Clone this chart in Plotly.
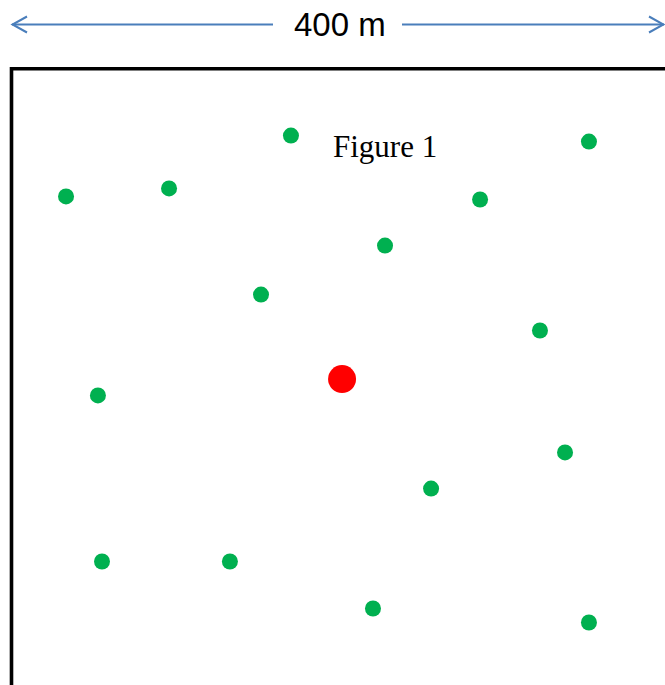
import plotly.graph_objects as go

# Tree positions in metres inside the 400 m plot (x from left edge, y from top edge)
green_x = [171.4, 354.5, 33.2, 96.5, 287.6, 229.2, 153.0, 324.4, 52.8, 339.8, 257.5, 55.3, 133.9, 221.8, 354.5]
green_y = [41.2, 44.9, 78.6, 73.7, 80.5, 108.8, 138.9, 161.0, 200.9, 235.9, 258.1, 302.9, 302.9, 331.8, 340.4]
red_x = [202.8]
red_y = [190.8]

side_label = "400 m"
title_text = "Figure 1"

W, H = 665, 685
X0, Y0 = 12.0, 68.5           # pixel position of the plot's top-left corner
K = 651.0 / 400.0             # pixels per metre

def mx(px):
    return (px - X0) / K

def my(py):
    return (py - Y0) / K

fig = go.Figure()
fig.add_trace(go.Scatter(x=green_x, y=green_y, mode="markers",
                         marker=dict(size=16, color="#00b050", line=dict(width=0)),
                         hoverinfo="skip", showlegend=False))
fig.add_trace(go.Scatter(x=red_x, y=red_y, mode="markers",
                         marker=dict(size=28, color="#ff0000", line=dict(width=0)),
                         hoverinfo="skip", showlegend=False))

shapes = []
# plot boundary (left and top edges visible)
shapes.append(dict(type="path", xref="x", yref="y",
                   path=f"M {mx(11.5)},{my(720)} L {mx(11.5)},{my(68.8)} L {mx(720)},{my(68.8)}",
                   line=dict(color="black", width=3.6)))
# dimension arrow
ay = my(24.5)
blue = "#4a7ebb"
shapes.append(dict(type="line", xref="x", yref="y", x0=mx(12), y0=ay, x1=mx(273), y1=ay,
                   line=dict(color=blue, width=2)))
shapes.append(dict(type="line", xref="x", yref="y", x0=mx(402), y0=ay, x1=mx(664), y1=ay,
                   line=dict(color=blue, width=2)))
shapes.append(dict(type="path", xref="x", yref="y",
                   path=f"M {mx(27)},{my(16.5)} L {mx(12.5)},{ay} L {mx(27)},{my(32.5)}",
                   line=dict(color=blue, width=2)))
shapes.append(dict(type="path", xref="x", yref="y",
                   path=f"M {mx(649)},{my(16.5)} L {mx(663.5)},{ay} L {mx(649)},{my(32.5)}",
                   line=dict(color=blue, width=2)))

annotations = [
    dict(x=mx(340), y=ay, xref="x", yref="y", text=side_label, showarrow=False,
         font=dict(family="Liberation Sans, Arial, sans-serif", size=33, color="black"),
         xanchor="center", yanchor="middle", borderpad=0),
    dict(x=mx(385), y=my(146), xref="x", yref="y", text=title_text, showarrow=False,
         font=dict(family="Liberation Serif, Times New Roman, serif", size=31, color="black"),
         xanchor="center", yanchor="middle"),
]

fig.update_layout(
    width=W, height=H, margin=dict(l=0, r=0, t=0, b=0),
    paper_bgcolor="white", plot_bgcolor="white",
    xaxis=dict(range=[mx(0), mx(W)], visible=False, fixedrange=True),
    yaxis=dict(range=[my(H), my(0)], visible=False, fixedrange=True),
    shapes=shapes, annotations=annotations, showlegend=False,
)

fig.write_html("out.html", config={"displayModeBar": False},
               post_script="document.body.style.margin='0';document.body.style.overflow='hidden';")
